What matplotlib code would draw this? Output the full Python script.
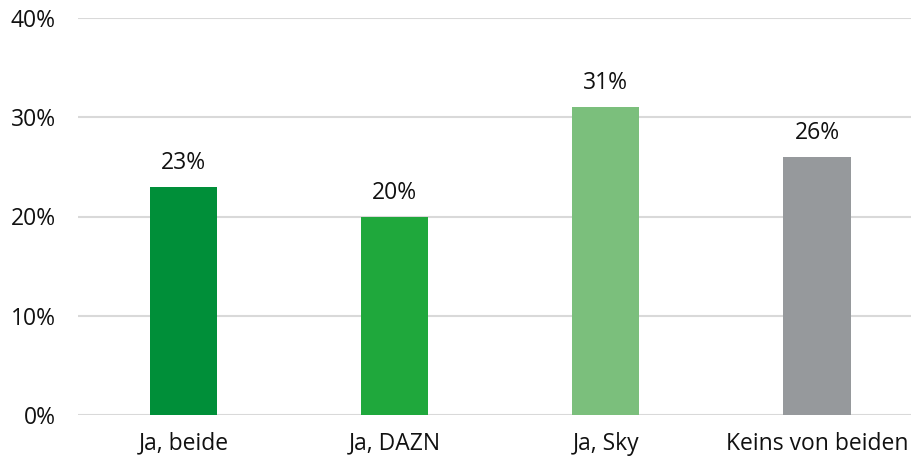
import matplotlib
matplotlib.use("Agg")
import matplotlib.pyplot as plt

categories = ["Ja, beide", "Ja, DAZN", "Ja, Sky", "Keins von beiden"]
values = [23, 20, 31, 26]
colors = ["#008F39", "#1FA83C", "#7BBF7C", "#96999C"]
yticks = [0, 10, 20, 30, 40]
ytick_labels = ["0%", "10%", "20%", "30%", "40%"]

plt.rcParams['font.family'] = ['Open Sans', 'DejaVu Sans']
FS = 16.5

fig = plt.figure(figsize=(9.12, 4.58), dpi=100)
ax = fig.add_axes([78/912, 1 - 415/458, (912-78)/912, (415-18)/458])

x = list(range(len(categories)))
bars = ax.bar(x, values, width=0.318, color=colors, zorder=3)
for xi, v in zip(x, values):
    ax.text(xi, v + 1.2, f"{v}%", ha="center", va="bottom", fontsize=FS, color="#111111")

ax.set_xlim(-0.5, 3.45)
ax.set_ylim(0, 40)
ax.set_yticks(yticks)
ax.set_yticklabels(ytick_labels, fontsize=FS, color="#111111")
ax.set_xticks(x)
ax.set_xticklabels(categories, fontsize=FS, color="#111111")
ax.tick_params(axis="both", length=0)
ax.tick_params(axis="y", pad=16)
ax.tick_params(axis="x", pad=12)
ax.yaxis.grid(True, color="#d9d9d9", linewidth=1.5, zorder=0)
ax.set_axisbelow(True)
for s in ax.spines.values():
    s.set_visible(False)

fig.savefig("out.png", dpi=100)
